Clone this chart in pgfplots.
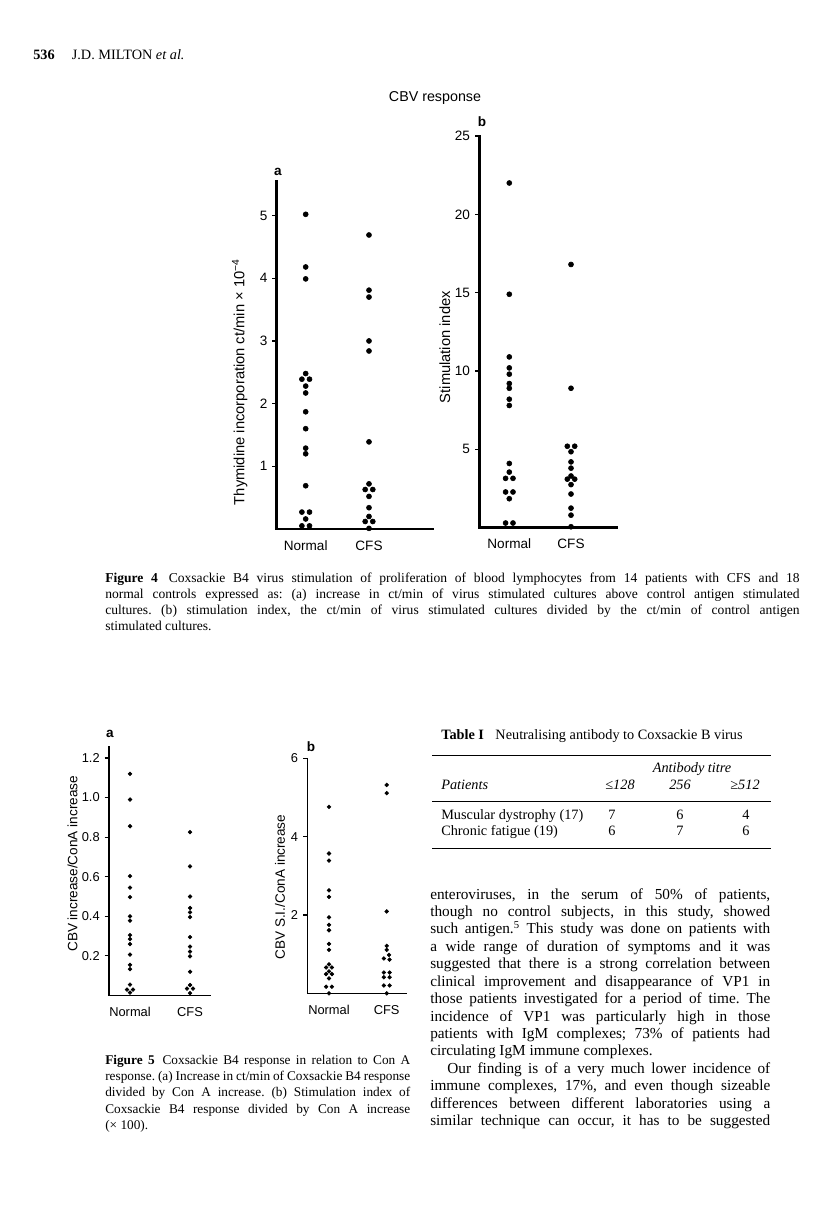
\documentclass[border=0pt]{standalone}
\usepackage{fontspec}
\setmainfont{Liberation Serif}
\setsansfont{Liberation Sans}
\usepackage{pgfplots}
\pgfplotsset{compat=1.18}

% one picture unit = one pixel of the scanned page, y downwards
\pgfplotsset{
  dotplot/.style={
    scale only axis,
    axis lines=left,
    axis line style={-},
    ymin=0,
    xtick={1,2},
    xticklabels={Normal, CFS},
    x tick style={draw=none},
    tick align=outside,
    major tick length=3pt,
    y tick style={line width=0.8pt, black},
    tick label style={font=\sffamily\fontsize{9.5}{10}\selectfont},
    label style={font=\sffamily\fontsize{9.5}{10}\selectfont},
    xticklabel style={yshift=-1pt, text height=1.6ex, text depth=0.3ex},
    /pgf/number format/assume math mode=true,
    clip=false,
    ylabel style={anchor=center},
  },
  dots/.style={only marks, black, mark=*, mark options={fill=black, draw=black}},
  fig4/.style={dotplot,
    x axis line style={line width=1.9pt, line cap=rect},
    y axis line style={line width=1.9pt, line cap=rect},
    every axis plot/.append style={mark size=1.75pt},
    label style={font=\sffamily\fontsize{10.3}{11}\selectfont}},
  fig5/.style={dotplot,
    x axis line style={line width=1pt, line cap=rect},
    y axis line style={line width=1pt, line cap=rect},
    every axis plot/.append style={mark size=1.3pt},
    tick label style={font=\sffamily\fontsize{9}{10}\selectfont}},
}

\begin{document}
\begin{tikzpicture}[x=0.7pt, y=-0.7pt]
\fill[white] (0,0) rectangle (816,1215);
\path[use as bounding box] (0,0) rectangle (816,1215);

\coordinate (P4a) at (276.7,529);
\coordinate (P4b) at (479.3,527.7);
\coordinate (P5a) at (109,995.5);
\coordinate (P5b) at (307.3,993.3);

% ---------- Figure 4a ----------
\begin{axis}[fig4, at={(P4a)}, anchor=south west,
  width=109.4pt, height=243.1pt,
  xmin=0.542, xmax=3.011, ymax=5.54, ytick={1,2,3,4,5},
  ylabel={Thymidine incorporation ct/min × 10\textsuperscript{−4}},
  ylabel style={at={(axis description cs:-0.237,0.423)}}]
\addplot[dots] table {
x y
1 5.02
1 4.18
1 3.99
1 2.48
0.94 2.39
1.06 2.39
1 2.28
1 2.17
1 1.87
1 1.60
1 1.29
1 1.20
1 0.69
0.94 0.27
1.06 0.27
1 0.16
0.94 0.05
1.06 0.05
};
\addplot[dots] table {
x y
2 4.69
2 3.81
2 3.70
2 3.00
2 2.84
2 1.39
2 0.72
1.94 0.63
2.06 0.63
2 0.52
2 0.34
2 0.20
1.94 0.12
2.06 0.12
2 0.01
};
\end{axis}

% ---------- Figure 4b ----------
\begin{axis}[fig4, at={(P4b)}, anchor=south west,
  width=96.2pt, height=274.2pt,
  xmin=0.514, xmax=2.741, ymax=25, ytick={5,10,15,20,25},
  ylabel={Stimulation index},
  ylabel style={at={(axis description cs:-0.25,0.461)}}]
\addplot[dots] table {
x y
1 22.0
1 14.9
1 10.9
1 10.2
1 9.8
1 9.2
1 8.9
1 8.2
1 7.8
1 4.1
1 3.55
0.94 3.15
1.06 3.15
0.94 2.28
1.06 2.28
1 1.85
0.94 0.3
1.06 0.3
};
\addplot[dots] table {
x y
2 16.8
2 8.9
1.94 5.2
2.06 5.2
2 4.85
2 4.2
2 3.8
2 3.3
1.94 3.1
2.06 3.1
2 2.75
2 2.15
2 1.25
2 0.8
2 0.06
};
\end{axis}

% ---------- Figure 5a ----------
\begin{axis}[fig5, at={(P5a)}, anchor=south west,
  width=70.7pt, height=174.2pt,
  xmin=0.65, xmax=2.333, ymax=1.257, ytick={0.2,0.4,0.6,0.8,1.0,1.2},
  yticklabel style={/pgf/number format/.cd, fixed, fixed zerofill, precision=1},
  ylabel={CBV increase/ConA increase},
  ylabel style={at={(axis description cs:-0.36,0.529)}}]
\addplot[dots] table {
x y
1 1.12
1 0.99
1 0.855
1 0.603
1 0.545
1 0.497
1 0.40
1 0.378
1 0.305
1 0.285
1 0.26
1 0.207
1 0.155
1 0.133
1 0.055
0.95 0.03
1.05 0.03
1 0.015
};
\addplot[dots] table {
x y
2 0.825
2 0.652
2 0.50
2 0.442
2 0.42
2 0.396
2 0.295
2 0.247
2 0.222
2 0.198
2 0.12
2 0.053
1.95 0.035
2.05 0.035
2 0.012
};
\end{axis}

% ---------- Figure 5b ----------
\begin{axis}[fig5, at={(P5b)}, anchor=south west,
  width=69.6pt, height=164.5pt,
  xmin=0.624, xmax=2.347, ymax=6, ytick={2,4,6},
  ylabel={CBV S.I./ConA increase},
  ylabel style={at={(axis description cs:-0.275,0.452)}}]
\addplot[dots] table {
x y
1 4.76
1 3.57
1 3.39
1 2.63
1 2.46
1 1.94
1 1.75
1 1.61
1 1.26
1 1.11
1 0.74
0.95 0.66
1.05 0.66
1 0.56
0.95 0.49
1.05 0.49
1 0.38
0.95 0.17
1.05 0.17
1 0.0
};
\addplot[dots] table {
x y
2 5.32
2 5.11
2 2.09
2 1.21
2 1.11
2.04 0.98
1.95 0.89
2.05 0.86
1.95 0.53
2.05 0.53
1.95 0.41
2.05 0.41
1.95 0.20
2.05 0.20
2 0.0
};
\end{axis}

% panel letters and figure title
\begin{scope}[font=\sffamily\bfseries\fontsize{9.5}{10}\selectfont]
\node at (278,172) {a};
\node at (482,122) {b};
\node at (110,734) {a};
\node at (311,747) {b};
\end{scope}
\node[font=\sffamily\fontsize{10}{12}\selectfont] at (435,98) {CBV response};

% running head
\node[anchor=base west, inner sep=0, font=\fontsize{10}{12}\selectfont] at (33,59)
  {\textbf{536}\hspace{12pt}J.D. MILTON \textit{et al.}};

% Figure 4 caption
\node[anchor=base west, inner sep=0] at (105,582) {\frenchspacing\fontsize{9.5}{11.2}\selectfont\vtop{\hsize=486pt
\hbox to \hsize{\textbf{Figure 4}\hspace{0.8em}Coxsackie B4 virus stimulation of proliferation of blood lymphocytes from 14 patients with CFS and 18}
\hbox to \hsize{normal controls expressed as: (a) increase in ct/min of virus stimulated cultures above control antigen stimulated}
\hbox to \hsize{cultures. (b) stimulation index, the ct/min of virus stimulated cultures divided by the ct/min of control antigen}
\hbox{stimulated cultures.}}};

% Figure 5 caption
\node[anchor=base west, inner sep=0] at (105,1064) {\frenchspacing\fontsize{9.3}{11.5}\selectfont\vtop{\hsize=213.5pt
\hbox to \hsize{\textbf{Figure 5}\hspace{0.6em}Coxsackie B4 response in relation to Con A}
\hbox to \hsize{response. (a) Increase in ct/min of Coxsackie B4 response}
\hbox to \hsize{divided by Con A increase. (b) Stimulation index of}
\hbox to \hsize{Coxsackie B4 response divided by Con A increase}
\hbox{(× 100).}}};

% Table I
\begin{scope}[font=\fontsize{10}{12}\selectfont, inner sep=0]
\node[anchor=base west] at (441,739) {\textbf{Table I}\hspace{0.8em}Neutralising antibody to Coxsackie B virus};
\draw[line width=0.5pt] (432,755) -- (771,755);
\node[anchor=base] at (692,772) {\itshape Antibody titre};
\node[anchor=base west] at (441,789) {\itshape Patients};
\node[anchor=base] at (620,789) {\itshape ≤128};
\node[anchor=base] at (680,789) {\itshape 256};
\node[anchor=base] at (745,789) {\itshape ≥512};
\draw[line width=0.5pt] (432,801) -- (771,801);
\node[anchor=base west] at (441,819) {Muscular dystrophy (17)};
\node[anchor=base] at (612,819) {7};
\node[anchor=base] at (680,819) {6};
\node[anchor=base] at (746,819) {4};
\node[anchor=base west] at (441,835) {Chronic fatigue (19)};
\node[anchor=base] at (612,835) {6};
\node[anchor=base] at (680,835) {7};
\node[anchor=base] at (746,835) {6};
\draw[line width=0.5pt] (432,848) -- (771,848);
\end{scope}

% body text
\node[anchor=base west, inner sep=0] at (430,899) {\frenchspacing\fontsize{10.7}{12.2}\selectfont\vtop{\hsize=238pt
\hbox to \hsize{enteroviruses, in the serum of 50\% of patients,}
\hbox to \hsize{though no control subjects, in this study, showed}
\hbox to \hsize{such antigen.\textsuperscript{5} This study was done on patients with}
\hbox to \hsize{a wide range of duration of symptoms and it was}
\hbox to \hsize{suggested that there is a strong correlation between}
\hbox to \hsize{clinical improvement and disappearance of VP1 in}
\hbox to \hsize{those patients investigated for a period of time. The}
\hbox to \hsize{incidence of VP1 was particularly high in those}
\hbox to \hsize{patients with IgM complexes; 73\% of patients had}
\hbox{circulating IgM immune complexes.}
\hbox to \hsize{\hspace{12pt}Our finding is of a very much lower incidence of}
\hbox to \hsize{immune complexes, 17\%, and even though sizeable}
\hbox to \hsize{differences between different laboratories using a}
\hbox to \hsize{similar technique can occur, it has to be suggested}}};
\end{tikzpicture}
\end{document}
